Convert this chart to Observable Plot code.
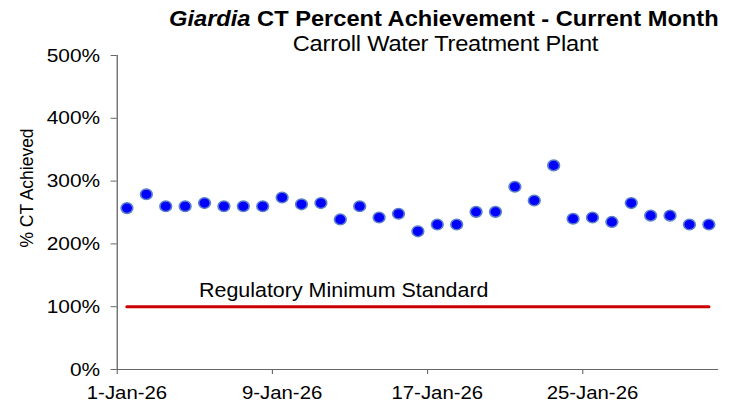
<!DOCTYPE html>
<html>
<head>
<meta charset="utf-8">
<script src="https://cdn.jsdelivr.net/npm/d3@7"></script>
<script src="https://cdn.jsdelivr.net/npm/@observablehq/plot@0.6"></script>
<style>
  html, body { margin: 0; padding: 0; background: white; }
  #chart svg { display: block; }
</style>
</head>
<body>
<div id="chart"></div>
<script>
// ---- Data ----
const dates = [
  "2026-01-01","2026-01-02","2026-01-03","2026-01-04","2026-01-05","2026-01-06","2026-01-07","2026-01-08",
  "2026-01-09","2026-01-10","2026-01-11","2026-01-12","2026-01-13","2026-01-14","2026-01-15","2026-01-16",
  "2026-01-17","2026-01-18","2026-01-19","2026-01-20","2026-01-21","2026-01-22","2026-01-23","2026-01-24",
  "2026-01-25","2026-01-26","2026-01-27","2026-01-28","2026-01-29","2026-01-30","2026-01-31"
];
const ctAchieved = [257, 279, 260, 260, 265, 260, 260, 260, 274, 263, 265, 239, 260, 242, 248, 220,
                    231, 231, 251, 251, 291, 269, 325, 240, 242, 235, 265, 245, 245, 231, 231];
const standard = [100, 100, 100, 100, 100, 100, 100, 100, 100, 100, 100, 100, 100, 100, 100, 100,
                  100, 100, 100, 100, 100, 100, 100, 100, 100, 100, 100, 100, 100, 100, 100];
const yTicks = [0, 100, 200, 300, 400, 500];
const xTickDates = ["2026-01-01", "2026-01-09", "2026-01-17", "2026-01-25"];
const xTickLabels = ["1-Jan-26", "9-Jan-26", "17-Jan-26", "25-Jan-26"];
const xDomain = ["2026-01-01", "2026-02-01"];
const titleItalic = "Giardia";
const titleRest = " CT Percent Achievement - Current Month";
const subtitle = "Carroll Water Treatment Plant";
const yLabel = "% CT Achieved";
const standardLabel = "Regulatory Minimum Standard";

// ---- Build ----
const noon = s => new Date(s + "T12:00:00Z");
const midnight = s => new Date(s + "T00:00:00Z");
const rows = dates.map((d, i) => ({date: noon(d), value: ctAchieved[i], standard: standard[i]}));
const labelMap = new Map(xTickDates.map((d, i) => [noon(d).getTime(), xTickLabels[i]]));

const S = 1.1;             // horizontal stretch of the reference image
const W = 739, H = 404;
const PW = W / S;
const font = "'Liberation Sans', Arial, Helvetica, sans-serif";

const chart = Plot.plot({
  width: PW,
  height: H,
  marginLeft: 116.7 / S,
  marginRight: PW - 718 / S,
  marginTop: 55,
  marginBottom: H - 369,
  style: {fontFamily: font, fontSize: "18.5px", color: "black", background: "white", overflow: "visible"},
  x: {type: "utc", domain: xDomain.map(midnight)},
  y: {domain: [0, 500]},
  marks: [
    Plot.ruleY([0], {stroke: "#666", strokeWidth: 1.2}),
    Plot.ruleX([midnight(xDomain[0])], {stroke: "#666", strokeWidth: 1.2}),
    Plot.axisY({ticks: yTicks, tickFormat: d => d + "%", tickSize: 5.5, tickPadding: 10, stroke: "#666", label: null, fontSize: 19}),
    Plot.axisX({ticks: xTickDates.map(midnight), tickFormat: () => "", tickSize: 5, stroke: "#666", label: null}),
    Plot.axisX({ticks: xTickDates.map(noon), tickFormat: d => labelMap.get(d.getTime()), tickSize: 0, tickPadding: 16, label: null, fontSize: 18.5}),
    Plot.lineY(rows, {x: "date", y: "standard", stroke: "#cc0000", strokeWidth: 3}),
    Plot.dot(rows, {x: "date", y: "value", r: 5.3, fill: "#0000ff", stroke: "#5b80c8", strokeWidth: 1.5})
  ]
});

// stretch horizontally like the reference
chart.setAttribute("preserveAspectRatio", "none");
chart.setAttribute("width", W);
chart.setAttribute("height", H);
chart.style.width = W + "px";
chart.style.height = H + "px";
chart.style.maxWidth = "none";

const svg = d3.select(chart);
const t = svg.append("text")
  .attr("x", 403.5).attr("y", 26.5)
  .attr("text-anchor", "middle")
  .attr("font-family", font).attr("font-size", 21.5).attr("font-weight", "bold").attr("fill", "black");
t.append("tspan").attr("font-style", "italic").text(titleItalic);
t.append("tspan").text(titleRest);

svg.append("text")
  .attr("x", 405).attr("y", 51.5)
  .attr("text-anchor", "middle")
  .attr("font-family", font).attr("font-size", 21.5).attr("letter-spacing", -0.2).attr("fill", "black")
  .text(subtitle);

svg.append("text")
  .attr("transform", "translate(30,188) rotate(-90)")
  .attr("text-anchor", "middle")
  .attr("font-family", font).attr("font-size", 17.5).attr("fill", "black")
  .text(yLabel);

svg.append("text")
  .attr("x", 199 / S).attr("y", 297)
  .attr("text-anchor", "start")
  .attr("font-family", font).attr("font-size", 19.5).attr("fill", "black")
  .text(standardLabel);

document.getElementById("chart").appendChild(chart);
</script>
</body>
</html>
